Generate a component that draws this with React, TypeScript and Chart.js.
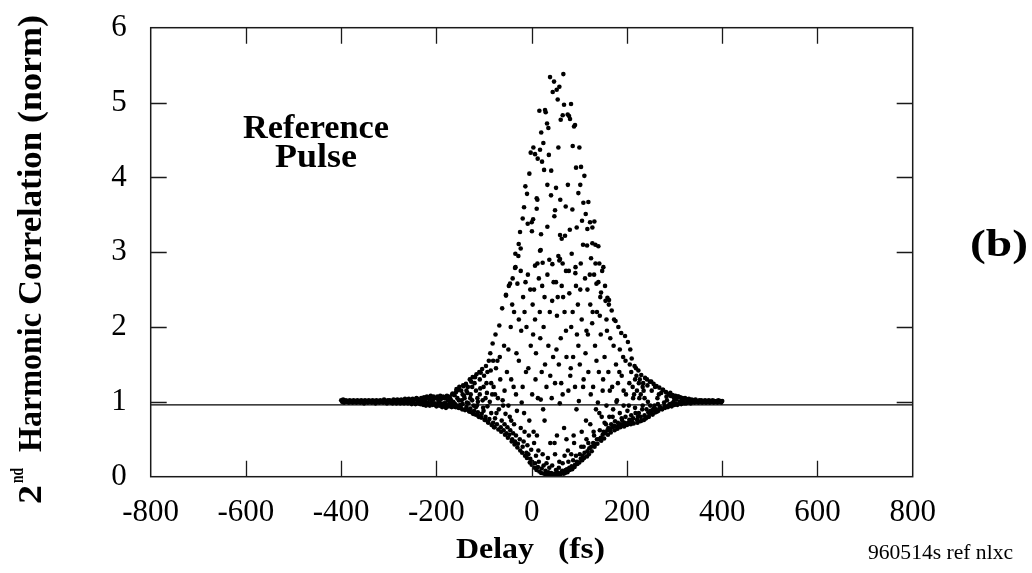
import React, { useEffect, useRef } from 'react';
import { Chart, registerables } from 'chart.js';

Chart.register(...registerables);

// ---- axes ----
const X_MIN = -800;
const X_MAX = 800;
const Y_MIN = 0;
const Y_MAX = 6;
const xTickValues = [-800, -600, -400, -200, 0, 200, 400, 600, 800];
const yTickValues = [0, 1, 2, 3, 4, 5, 6];
const referenceLevel = 0.96;

// ---- data: [delay (fs), normalized 2nd harmonic signal] ----
const leftWing: number[][] = [
  [-400, 1.02], [-398, 1.0], [-396, 1.03], [-394, 0.99], [-392, 1.01], [-390, 1.02], [-388, 1.0], [-386, 1.01],
  [-384, 0.99], [-382, 1.02], [-380, 1.0], [-378, 1.01], [-376, 0.99], [-374, 1.02], [-372, 1.0], [-370, 1.01],
  [-368, 0.99], [-366, 1.02], [-364, 1.0], [-362, 1.01], [-360, 0.99], [-358, 1.02], [-356, 1.0], [-354, 1.01],
  [-352, 0.98], [-350, 1.02], [-348, 1.0], [-346, 1.01], [-344, 0.99], [-342, 1.02], [-340, 1.0], [-338, 1.01],
  [-336, 0.99], [-334, 1.02], [-332, 1.0], [-330, 1.01], [-328, 0.98], [-326, 1.02], [-324, 1.0], [-322, 1.01],
  [-320, 0.99], [-318, 1.02], [-316, 1.0], [-314, 1.01], [-312, 0.99], [-310, 1.03], [-308, 1.0], [-306, 1.01],
  [-304, 0.98], [-302, 1.02], [-300, 1.0], [-298, 1.02], [-296, 0.99], [-294, 1.01], [-292, 0.98], [-290, 1.03],
  [-288, 1.0], [-286, 1.02], [-284, 0.98], [-282, 1.03], [-280, 1.0], [-278, 1.02], [-276, 0.98], [-274, 1.03],
  [-272, 0.99], [-270, 1.02], [-268, 0.98], [-266, 1.04], [-264, 1.0], [-262, 1.02], [-260, 0.98], [-258, 1.04],
  [-256, 0.99], [-254, 1.02], [-252, 0.97], [-250, 1.04], [-248, 1.0], [-246, 1.03], [-244, 0.97], [-242, 1.05],
];

const leadingEdge: number[][] = [
  [-240, 1.04], [-238, 0.98], [-236, 1.02], [-234, 0.97], [-232, 1.05], [-230, 1.0], [-228, 0.96], [-226, 1.06],
  [-224, 1.01], [-222, 0.95], [-220, 1.07], [-218, 0.99], [-216, 1.04], [-214, 0.95], [-212, 1.08], [-210, 1.02],
  [-208, 0.96], [-206, 1.07], [-204, 0.98], [-202, 1.05], [-200, 0.94], [-198, 1.07], [-196, 1.01], [-194, 0.95],
  [-192, 1.08], [-190, 1.04], [-188, 0.93], [-186, 1.07], [-184, 0.98], [-182, 1.05], [-180, 0.92], [-178, 1.08],
  [-176, 1.02], [-174, 0.94], [-172, 1.06], [-170, 1.03], [-168, 0.93], [-166, 1.11], [-164, 0.99], [-162, 1.09],
  [-160, 0.93], [-158, 1.17], [-156, 1.05], [-154, 0.92], [-152, 1.2], [-150, 0.96], [-148, 1.15], [-146, 0.9],
  [-144, 1.22], [-142, 1.08], [-140, 0.89], [-138, 1.24], [-136, 0.99], [-134, 1.2], [-132, 0.88], [-130, 1.3],
  [-128, 1.1], [-126, 0.86], [-124, 1.33], [-122, 0.95], [-120, 1.25], [-118, 0.83], [-116, 1.37], [-114, 1.05],
  [-112, 0.81], [-110, 1.4], [-108, 1.18], [-106, 0.79], [-104, 1.44], [-102, 0.92], [-100, 1.35], [-98, 0.76],
  [-96, 1.48], [-94, 1.12], [-92, 0.73], [-90, 1.55], [-88, 1.0], [-86, 1.42], [-84, 0.69], [-82, 1.78],
  [-239, 1.01], [-235, 0.99], [-231, 1.03], [-227, 0.98], [-223, 1.04], [-219, 0.97], [-215, 1.06], [-211, 0.99],
  [-207, 1.03], [-203, 0.96], [-199, 1.05], [-195, 0.98], [-191, 1.06], [-187, 0.97], [-183, 1.05], [-179, 0.95],
  [-175, 1.07], [-171, 0.99], [-167, 1.1], [-163, 0.94], [-159, 1.13], [-155, 1.16], [-151, 0.92], [-147, 1.02],
  [-143, 1.21], [-139, 0.9], [-135, 1.12], [-131, 0.87], [-127, 1.27], [-123, 0.84], [-119, 1.33], [-115, 0.95],
  [-111, 0.8], [-107, 1.39], [-103, 1.02], [-99, 0.76], [-95, 1.25], [-91, 0.72], [-87, 1.65], [-83, 1.1], [-79, 0.66],
];

const centralBody: number[][] = [
  [-80, 1.2], [-78, 0.66], [-76, 1.9], [-74, 0.85], [-72, 1.55], [-70, 0.63], [-68, 2.02], [-66, 1.3],
  [-64, 0.6], [-62, 2.25], [-60, 0.95], [-58, 1.75], [-56, 0.56], [-54, 2.42], [-52, 1.4], [-50, 0.52],
  [-48, 2.55], [-46, 0.8], [-44, 2.0], [-42, 0.47], [-40, 2.65], [-38, 1.2], [-36, 0.43], [-34, 2.8],
  [-32, 1.65], [-30, 0.39], [-28, 2.95], [-24, 0.35], [-22, 1.95], [-20, 0.32], [-18, 2.4], [-16, 0.85],
  [-14, 0.28], [-12, 1.4], [-10, 0.25], [-8, 2.7], [-6, 0.55], [-4, 0.19], [-2, 1.75], [0, 0.16],
  [2, 2.3], [4, 0.6], [6, 0.12], [8, 1.3], [10, 0.09], [12, 2.85], [14, 0.35], [16, 0.07],
  [18, 1.85], [20, 0.05], [22, 2.55], [24, 0.9], [26, 0.04], [28, 1.5], [30, 0.03], [34, 0.25],
  [36, 0.02], [38, 2.2], [40, 0.03], [42, 1.05], [44, 0.01], [46, 2.6], [48, 0.45], [50, 0.02],
  [52, 1.7], [54, 0.06], [56, 2.95], [58, 0.2], [60, 0.03], [62, 1.25], [64, 0.08], [66, 2.4],
  [68, 0.65], [70, 0.05], [72, 1.95], [74, 0.1], [76, 0.35], [78, 2.75], [80, 0.09], [82, 1.45],
  [84, 0.14], [86, 2.2], [88, 0.55], [90, 0.13], [92, 2.8], [94, 0.9], [96, 0.17], [98, 1.75],
  [100, 0.19], [102, 2.5], [104, 0.4], [106, 0.22], [108, 1.2], [110, 0.25], [112, 2.65], [114, 0.75],
  [116, 0.27], [118, 1.9], [120, 0.3], [122, 2.7], [124, 1.1], [126, 0.34], [128, 2.2], [130, 0.6],
  [132, 0.4], [134, 2.85], [136, 1.55], [138, 0.44], [140, 2.6], [142, 0.85], [144, 2.4], [146, 0.48],
  [148, 2.75], [150, 1.3], [152, 0.51], [154, 2.55], [156, 0.7], [158, 1.95],
  [-61, 1.02], [-21, 0.99], [19, 1.03], [59, 0.98], [99, 1.01], [139, 0.99], [-27, 2.1], [-13, 2.6],
  [3, 1.9], [17, 2.2], [33, 2.7], [45, 1.6], [63, 2.55], [81, 1.35], [97, 2.3], [113, 1.65], [127, 2.05],
];

const peakUpper: number[][] = [
  [66.5, 5.38], [38.5, 5.34], [46.9, 5.28], [58.1, 5.21], [52.5, 5.17], [44.1, 5.14], [54.6, 5.04], [67.9, 4.97],
  [82.6, 4.98], [16.1, 4.89], [28.0, 4.9], [29.4, 4.87], [65.1, 4.83], [75.6, 4.84], [78.4, 4.82], [60.9, 4.77],
  [80.5, 4.78], [32.2, 4.72], [35.0, 4.66], [91.0, 4.7], [88.9, 4.68], [24.5, 4.46], [3.5, 4.4], [17.5, 4.37],
  [-2.1, 4.33], [7.0, 4.31], [12.6, 4.25], [21.7, 4.21], [86.1, 4.42], [100.1, 4.4], [93.1, 4.13], [103.6, 4.14],
  [110.6, 4.02], [-4.9, 4.05], [41.0, 4.09], [-13.3, 3.88], [-9.8, 3.78], [32.9, 3.9], [51.1, 3.86], [40.6, 3.76],
  [10.5, 3.72], [11.9, 3.7], [10.5, 3.58], [-16.1, 3.6], [98.0, 3.79], [108.5, 3.66], [119.0, 3.67], [113.4, 3.51],
  [71.4, 3.61], [85.4, 3.57], [49.0, 3.56], [47.6, 3.48], [-18.9, 3.45], [3.0, 3.44], [-8.4, 3.38], [0.0, 3.4],
  [-24.5, 3.27], [0.5, 3.28], [19.6, 3.24], [32.9, 3.34], [59.5, 3.23], [70.0, 3.22], [63.0, 3.18], [94.5, 3.33],
  [105.7, 3.42], [122.5, 3.4], [131.6, 3.41], [127.4, 3.33], [116.9, 3.31], [-27.3, 3.11], [-23.1, 3.05],
  [-34.3, 2.98], [18.9, 3.03], [107.8, 3.1], [116.2, 3.09], [127.4, 3.12], [133.7, 3.1], [140.0, 3.08],
  [84.0, 2.98], [124.6, 2.92], [59.5, 2.91], [17.5, 3.02], [7.0, 2.82], [23.0, 2.86], [43.4, 2.84], [58.0, 2.89],
  [72.0, 2.75], [91.7, 2.72], [142.0, 2.85], [150.5, 2.8], [-35.0, 2.79], [-45.5, 2.58], [-30.0, 2.58],
  [136.0, 2.58], [-54.0, 2.43], [54.6, 2.4], [145.6, 2.46], [159.0, 2.39], [162.4, 2.36],
  [20, 4.6], [36, 4.3], [56, 4.4], [76, 3.9], [26, 4.1], [102, 3.9], [60, 3.7], [80, 3.3],
];

const trailingEdge: number[][] = [
  [160, 0.56], [162, 2.3], [164, 1.15], [166, 0.59], [168, 2.22], [170, 0.8], [172, 1.75], [174, 0.62],
  [176, 2.08], [178, 1.0], [180, 0.64], [182, 2.0], [184, 1.4], [186, 0.66], [188, 1.92], [190, 0.75],
  [192, 1.6], [194, 0.67], [196, 1.88], [198, 1.1], [200, 0.69], [202, 1.8], [204, 0.95], [206, 1.5],
  [208, 0.7], [210, 1.58], [212, 1.2], [214, 0.71], [216, 1.48], [218, 0.85], [220, 1.35], [222, 0.72],
  [224, 1.42], [226, 1.05], [228, 0.74], [230, 1.36], [232, 0.9], [234, 1.25], [236, 0.76], [238, 1.32],
  [240, 0.78], [242, 1.3], [244, 1.0], [246, 0.8], [248, 1.27], [250, 0.88], [252, 1.15], [254, 0.83],
  [256, 1.24], [258, 0.95], [260, 0.86], [262, 1.21], [264, 1.05], [266, 0.88], [268, 1.19], [270, 0.92],
  [272, 1.12], [274, 0.9], [276, 1.16], [278, 0.99], [280, 0.92], [282, 1.13], [284, 1.02], [286, 0.93],
  [288, 1.1], [290, 0.97], [292, 1.08], [294, 0.94], [296, 1.09], [298, 1.0], [300, 0.96], [302, 1.08],
  [304, 1.03], [306, 0.96], [308, 1.07], [310, 0.98], [312, 1.06], [314, 0.97], [316, 1.05], [318, 1.0],
  [320, 0.98], [179, 1.02], [203, 0.72], [207, 1.7], [211, 0.74], [215, 1.1], [219, 1.45], [223, 0.8],
  [227, 1.3], [231, 0.75], [235, 1.15], [239, 0.79], [243, 1.22], [247, 0.84], [251, 1.27], [255, 0.9],
  [259, 1.2], [263, 0.87], [267, 1.1], [271, 0.91], [275, 1.16], [279, 0.94], [283, 1.07], [287, 0.95],
  [291, 1.12], [295, 0.98], [299, 1.05], [303, 0.97], [307, 1.07], [311, 1.0], [315, 1.04], [319, 0.99],
];

const lowerCloud: number[][] = [
  [-197, 0.97], [-193, 0.99], [-185, 0.96], [-181, 0.98], [-177, 0.95], [-173, 0.97], [-169, 0.95], [-165, 1.0],
  [-161, 0.97], [-157, 0.95], [-153, 1.02], [-149, 0.93], [-145, 0.97], [-141, 1.05], [-137, 0.93], [-133, 0.98],
  [-129, 0.91], [-125, 1.02], [-121, 0.88], [-117, 0.93], [-113, 0.86], [-109, 1.1], [-105, 0.84], [-101, 0.88],
  [-97, 0.8], [-93, 0.94], [-89, 0.77], [-85, 0.85], [-81, 0.72], [-77, 0.78], [-73, 0.7], [-69, 0.9],
  [-65, 0.66], [-63, 0.75], [-59, 0.62], [-57, 0.7], [-55, 0.84], [-53, 0.58], [-51, 0.66], [-49, 0.95],
  [-47, 0.56], [-45, 0.62], [-43, 0.75], [-41, 0.5], [-39, 0.58], [-37, 0.7], [-35, 0.47], [-33, 0.55],
  [-31, 0.88], [-29, 0.44], [-25, 0.5], [-23, 0.65], [-19, 0.4], [-17, 0.47], [-15, 0.6], [-11, 0.32],
  [-9, 0.42], [-7, 0.3], [-5, 0.75], [-3, 0.24], [-1, 0.36], [1, 0.2], [5, 0.45], [7, 0.18],
  [9, 0.28], [11, 0.55], [13, 0.13], [15, 0.2], [21, 0.11], [23, 0.3], [25, 0.15], [27, 0.75],
  [29, 0.08], [31, 0.18], [35, 0.06], [37, 0.12], [39, 0.45], [41, 0.05], [43, 0.15], [47, 0.04],
  [49, 0.3], [51, 0.09], [53, 0.55], [55, 0.02], [57, 0.12], [61, 0.05], [65, 0.18], [67, 0.04],
  [69, 0.28], [71, 0.09], [73, 0.5], [75, 0.06], [77, 0.2], [79, 0.12], [83, 0.3], [85, 0.1],
  [87, 0.22], [89, 0.45], [91, 0.16], [93, 0.28], [95, 0.2], [101, 0.3], [103, 0.24], [105, 0.6],
  [107, 0.28], [109, 0.4], [111, 0.32], [115, 0.5], [117, 0.34], [119, 0.45], [121, 0.38], [123, 0.7],
  [125, 0.4], [129, 0.45], [131, 0.55], [133, 0.44], [135, 0.9], [137, 0.5], [141, 0.5], [143, 0.62],
  [145, 0.52], [147, 0.8], [149, 0.56], [151, 0.6], [153, 0.72], [155, 0.58], [157, 0.95], [159, 0.62],
  [161, 0.65], [163, 0.8], [165, 0.63], [167, 0.7], [169, 0.66], [171, 0.9], [173, 0.68], [175, 0.74],
  [177, 0.67], [181, 0.72], [183, 0.68], [185, 0.85], [187, 0.7], [189, 0.78], [191, 0.69], [193, 0.95],
  [195, 0.72], [197, 0.8], [199, 0.71], [201, 0.88], [205, 0.76], [209, 0.82], [213, 0.78], [217, 0.92],
  [221, 0.76], [225, 0.85], [229, 0.8], [233, 0.95], [237, 0.82], [241, 0.9], [245, 0.86], [249, 0.95],
  [253, 0.88], [257, 0.92], [261, 0.9], [265, 0.97], [269, 0.93],
];

const middleCloud: number[][] = [
  [-75, 1.45], [-71, 1.05], [-67, 1.6], [-57, 1.15], [-49, 1.7], [-43, 1.3], [-37, 2.2], [-33, 1.1],
  [-27, 1.55], [-19, 1.2], [-11, 2.0], [-7, 1.45], [1, 1.1], [5, 2.5], [9, 1.65], [13, 1.05],
  [21, 1.4], [25, 2.0], [31, 1.2], [35, 1.75], [39, 1.35], [43, 2.35], [49, 1.25], [53, 2.15],
  [57, 1.5], [61, 1.85], [65, 1.1], [69, 2.2], [73, 1.6], [77, 1.15], [83, 2.0], [87, 1.6],
  [91, 1.2], [95, 1.9], [101, 1.5], [105, 2.1], [109, 1.3], [115, 1.95], [119, 1.4], [123, 2.3],
  [129, 1.2], [133, 1.75], [137, 2.2], [141, 1.4], [145, 1.9], [149, 1.15], [153, 1.6], [157, 2.1],
  [161, 1.4], [165, 1.85], [169, 1.2], [173, 2.1], [177, 1.5], [181, 1.25], [185, 1.7], [189, 1.35],
  [193, 1.15], [197, 1.55], [205, 1.25], [209, 1.4], [213, 1.05], [217, 1.3], [221, 1.15], [225, 1.25],
  [229, 1.1], [233, 1.2], [237, 1.05], [-117, 1.15], [-109, 1.3], [-101, 1.2], [-97, 1.05], [-93, 1.4],
  [-85, 1.25], [-81, 1.55], [-77, 1.1], [-145, 1.1], [-137, 1.15], [-129, 1.05], [-125, 1.2], [-113, 1.0],
  [-41, 2.3], [-23, 2.75], [-15, 2.2], [-3, 2.5], [7, 2.1], [15, 2.65], [27, 2.4], [37, 2.9],
  [51, 2.6], [65, 2.85], [79, 2.45], [93, 2.55], [103, 2.85], [117, 2.5], [131, 2.7], [143, 2.15], [155, 2.35],
];

const rightWing: number[][] = [
  [322, 1.05], [324, 0.98], [326, 1.03], [328, 0.99], [330, 1.04], [332, 1.0], [334, 0.98], [336, 1.03],
  [338, 1.0], [340, 1.02], [342, 0.99], [344, 1.03], [346, 1.0], [348, 1.01], [350, 0.99], [352, 1.02],
  [354, 1.0], [356, 1.02], [358, 0.99], [360, 1.01], [362, 1.0], [364, 1.02], [366, 0.99], [368, 1.01],
  [370, 1.0], [372, 1.02], [374, 0.99], [376, 1.01], [378, 1.0], [380, 1.02], [382, 0.99], [384, 1.01],
  [386, 1.0], [388, 1.01], [390, 0.99], [392, 1.02], [394, 1.0], [396, 1.01], [398, 0.99], [400, 1.01],
];

const SERIF = "'Liberation Serif', 'DejaVu Serif', serif";

function fitText(ctx: CanvasRenderingContext2D, text: string, left: number, baseline: number, width: number, font: string) {
  ctx.font = font;
  const w = ctx.measureText(text).width || 1;
  ctx.save();
  ctx.translate(left, baseline);
  ctx.scale(width / w, 1);
  ctx.textAlign = 'left';
  ctx.textBaseline = 'alphabetic';
  ctx.fillText(text, 0, 0);
  ctx.restore();
}

const decorPlugin = {
  id: 'decor',
  afterDraw(chart: any) {
    const { ctx, chartArea: a, scales } = chart;
    const xs = scales.x;
    const ys = scales.y;
    ctx.save();
    // frame
    ctx.strokeStyle = '#1a1a1a';
    ctx.lineWidth = 1.5;
    ctx.strokeRect(a.left, a.top, a.right - a.left, a.bottom - a.top);
    // inward tick marks on all four sides
    const tl = 16;
    ctx.lineWidth = 1.3;
    ctx.beginPath();
    xTickValues.forEach((v) => {
      if (v <= X_MIN || v >= X_MAX) return;
      const px = Math.round(xs.getPixelForValue(v)) + 0.5;
      ctx.moveTo(px, a.bottom);
      ctx.lineTo(px, a.bottom - tl);
      ctx.moveTo(px, a.top);
      ctx.lineTo(px, a.top + tl);
    });
    yTickValues.forEach((v) => {
      if (v <= Y_MIN || v >= Y_MAX) return;
      const py = Math.round(ys.getPixelForValue(v)) + 0.5;
      ctx.moveTo(a.left, py);
      ctx.lineTo(a.left + tl, py);
      ctx.moveTo(a.right, py);
      ctx.lineTo(a.right - tl, py);
    });
    ctx.stroke();

    ctx.fillStyle = '#000';
    // x axis title
    fitText(ctx, 'Delay', 456, 558, 78, `bold 29px ${SERIF}`);
    fitText(ctx, '(fs)', 558, 558, 47, `bold 29px ${SERIF}`);
    // y axis title (rotated)
    ctx.save();
    ctx.translate(40.5, 504);
    ctx.rotate(-Math.PI / 2);
    fitText(ctx, '2', 0, 0, 19, `bold 34px ${SERIF}`);
    fitText(ctx, 'nd', 21, -18, 15, `bold 19px ${SERIF}`);
    fitText(ctx, 'Harmonic', 52, 0, 139, `bold 34px ${SERIF}`);
    fitText(ctx, 'Correlation', 199, 0, 173, `bold 34px ${SERIF}`);
    fitText(ctx, '(norm)', 381, 0, 108, `bold 34px ${SERIF}`);
    ctx.restore();
    // annotations
    fitText(ctx, 'Reference', 243, 138, 146, `bold 34px ${SERIF}`);
    fitText(ctx, 'Pulse', 275, 167, 82, `bold 34px ${SERIF}`);
    fitText(ctx, '(b)', 970, 256, 58, `bold 38px ${SERIF}`);
    fitText(ctx, '960514s ref nlxc', 868, 559, 145, `20px ${SERIF}`);
    ctx.restore();
  },
};

const toPoints = (arr: number[][]) => arr.map(([x, y]) => ({ x, y }));

export default function App() {
  const canvasRef = useRef<HTMLCanvasElement | null>(null);

  useEffect(() => {
    const canvas = canvasRef.current;
    if (!canvas) return;
    const allPoints = [
      ...toPoints(leftWing),
      ...toPoints(leadingEdge),
      ...toPoints(centralBody),
      ...toPoints(peakUpper),
      ...toPoints(trailingEdge),
      ...toPoints(lowerCloud),
      ...toPoints(middleCloud),
      ...toPoints(rightWing),
    ];
    const chart = new Chart(canvas, {
      type: 'scatter',
      data: {
        datasets: [
          {
            type: 'line',
            data: [
              { x: X_MIN, y: referenceLevel },
              { x: X_MAX, y: referenceLevel },
            ],
            borderColor: '#000',
            borderWidth: 1.2,
            pointRadius: 0,
            fill: false,
            order: 2,
          } as any,
          {
            data: allPoints,
            pointRadius: 2.3,
            pointBackgroundColor: '#000',
            pointBorderWidth: 0,
            pointBorderColor: '#000',
            order: 1,
          },
        ],
      },
      options: {
        responsive: false,
        animation: false,
        devicePixelRatio: 1,
        layout: { padding: { left: 0, right: 119.3, top: 27.7, bottom: 0 } },
        plugins: {
          legend: { display: false },
          tooltip: { enabled: false },
        },
        scales: {
          x: {
            type: 'linear',
            min: X_MIN,
            max: X_MAX,
            afterBuildTicks: (s: any) => {
              s.ticks = xTickValues.map((v) => ({ value: v }));
            },
            afterFit: (s: any) => {
              s.height = 96.3;
              s.paddingLeft = 0;
              s.paddingRight = 0;
              s.paddingTop = 0;
              s.paddingBottom = 0;
            },
            grid: { display: false, drawTicks: false },
            border: { display: false },
            ticks: {
              padding: 18,
              color: '#000',
              maxRotation: 0,
              autoSkip: false,
              font: { family: SERIF, size: 31 },
            },
          },
          y: {
            type: 'linear',
            min: Y_MIN,
            max: Y_MAX,
            afterBuildTicks: (s: any) => {
              s.ticks = yTickValues.map((v) => ({ value: v }));
            },
            afterFit: (s: any) => {
              s.width = 150.7;
              s.paddingLeft = 0;
              s.paddingRight = 0;
              s.paddingTop = 0;
              s.paddingBottom = 0;
            },
            grid: { display: false, drawTicks: false },
            border: { display: false },
            ticks: {
              padding: 24,
              color: '#000',
              autoSkip: false,
              font: { family: SERIF, size: 31 },
            },
          },
        },
      },
      plugins: [decorPlugin],
    });
    return () => chart.destroy();
  }, []);

  return (
    <div style={{ position: 'absolute', left: 0, top: 0, width: 1032, height: 573, background: '#fff' }}>
      <canvas ref={canvasRef} width={1032} height={573} style={{ display: 'block' }} />
    </div>
  );
}
